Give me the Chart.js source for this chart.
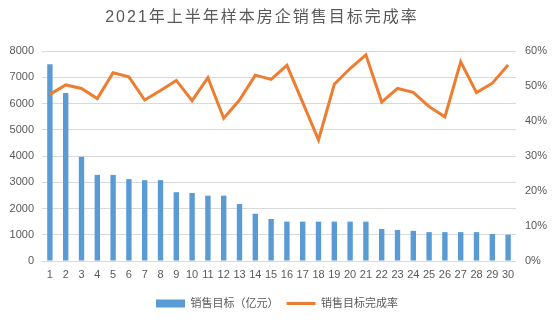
<!DOCTYPE html>
<html>
<head>
<meta charset="utf-8">
<script src="https://cdn.jsdelivr.net/npm/chart.js@4"></script>
<style>
  html, body { margin: 0; padding: 0; background: #fff; }
  #wrap { width: 554px; height: 324px; }
</style>
</head>
<body>
<div id="wrap"><canvas id="chart"></canvas></div>
<script>
const titleText = '2021年上半年样本房企销售目标完成率';
const ranks = ['1', '2', '3', '4', '5', '6', '7', '8', '9', '10',
    '11', '12', '13', '14', '15', '16', '17', '18', '19', '20',
    '21', '22', '23', '24', '25', '26', '27', '28', '29', '30'];
// 销售目标，单位亿元
const salesTarget = [7500, 6400, 3970, 3280, 3280, 3120, 3080, 3080, 2620, 2590,
    2490, 2490, 2170, 1800, 1600, 1500, 1500, 1500, 1500, 1500,
    1500, 1220, 1180, 1150, 1100, 1100, 1100, 1100, 1030, 1000];
// 完成率，单位%
const completionRate = [47.6, 50.3, 49.3, 46.4, 53.8, 52.6, 46.0, 48.7, 51.6, 45.8,
    52.4, 40.8, 46.0, 53.1, 51.9, 55.9, 45.3, 34.6, 50.5, 55.0,
    58.9, 45.4, 49.3, 48.2, 44.1, 41.2, 56.9, 48.1, 50.8, 56.0];
const leftTicks = [0, 1000, 2000, 3000, 4000, 5000, 6000, 7000, 8000];
const rightTicks = [0, 10, 20, 30, 40, 50, 60];

const textColor = '#595959';
const fontFamily = "'Liberation Sans', 'Noto Sans CJK SC', sans-serif";

// 标题单独画，位置偏左一点，字间距拉开
const titlePlugin = {
    id: 'customTitle',
    afterDraw(chart) {
        const ctx = chart.ctx;
        ctx.save();
        ctx.fillStyle = textColor;
        ctx.font = '16px ' + fontFamily;
        ctx.letterSpacing = '2px';
        ctx.textAlign = 'center';
        ctx.textBaseline = 'middle';
        ctx.fillText(titleText, 262, 18);
        ctx.restore();
    }
};

const ctx = document.getElementById('chart').getContext('2d');
const chart = new Chart(ctx, {
    data: {
        labels: ranks,
        datasets: [{
            type: 'line',
            label: '销售目标完成率',
            data: completionRate,
            yAxisID: 'y1',
            borderColor: '#ED7D31',
            backgroundColor: '#ED7D31',
            borderWidth: 3,
            pointRadius: 0,
            pointStyle: 'line',
            tension: 0,
            order: 1
        }, {
            type: 'bar',
            label: '销售目标（亿元）',
            data: salesTarget,
            yAxisID: 'y',
            backgroundColor: '#5B9BD5',
            borderWidth: 0,
            pointStyle: 'rect',
            categoryPercentage: 1,
            barPercentage: 0.34,
            order: 2
        }]
    },
    options: {
        responsive: true,
        maintainAspectRatio: false,
        animation: false,
        layout: {
            padding: { top: 51, bottom: 5, left: 0, right: 0 }
        },
        scales: {
            x: {
                offset: true,
                grid: { display: false, drawTicks: false },
                border: { display: false },
                ticks: {
                    color: textColor,
                    font: { family: fontFamily, size: 11 },
                    padding: 7,
                    maxRotation: 0,
                    autoSkip: false
                },
                afterFit: function (scale) { scale.height = 29; }
            },
            y: {
                position: 'left',
                min: 0,
                max: 8000,
                afterBuildTicks: function (scale) {
                    scale.ticks = leftTicks.map(v => ({ value: v }));
                },
                grid: { color: '#D9D9D9', drawTicks: false },
                border: { display: false },
                ticks: {
                    color: textColor,
                    font: { family: fontFamily, size: 11 },
                    padding: 8,
                    callback: v => String(v)
                },
                afterFit: function (scale) { scale.width = 42; }
            },
            y1: {
                position: 'right',
                min: 0,
                max: 60,
                afterBuildTicks: function (scale) {
                    scale.ticks = rightTicks.map(v => ({ value: v }));
                },
                grid: { display: false, drawTicks: false },
                border: { display: false },
                ticks: {
                    color: textColor,
                    font: { family: fontFamily, size: 11 },
                    padding: 9,
                    callback: v => v + '%'
                },
                afterFit: function (scale) { scale.width = 38; }
            }
        },
        plugins: {
            title: { display: false },
            tooltip: { enabled: false },
            legend: {
                position: 'bottom',
                reverse: true,
                labels: {
                    usePointStyle: true,
                    pointStyleWidth: 29,
                    boxHeight: 8,
                    padding: 8,
                    color: textColor,
                    font: { family: fontFamily, size: 11 }
                }
            }
        }
    },
    plugins: [titlePlugin]
});
</script>
</body>
</html>
